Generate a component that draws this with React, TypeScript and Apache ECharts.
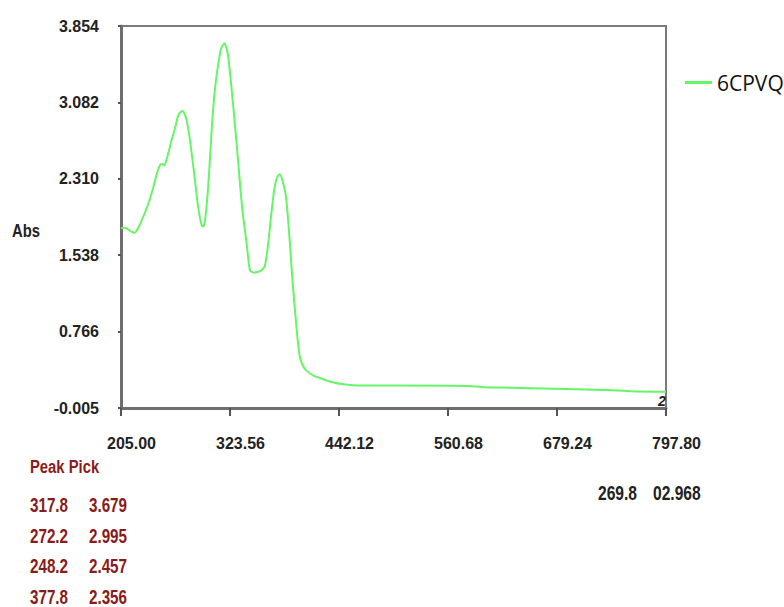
import React, { useEffect, useRef } from "react";
import * as echarts from "echarts";

const seriesName = "6CPVQ";
const wavelengths = [
  205, 209, 213, 216, 219.5, 223, 228, 234.7, 240, 244, 247.4, 250, 252, 255, 260, 264, 267.3, 270, 272.2, 274,
  276.4, 280, 285.5, 289, 292.8, 294.5, 296.4, 300, 303.6, 307, 310.9, 314, 317.8, 320, 321.7, 325, 329, 332.6,
  337, 341.7, 345.3, 349, 354.3, 358, 361.6, 365, 368.9, 372, 375, 377.8, 381, 384.5, 388.8, 391, 394.3, 397,
  399.7, 403, 407, 415, 425, 435, 447, 465, 508, 584, 600, 628, 700, 735, 760, 797.8,
];
const absorbance = [
  1.811, 1.815, 1.798, 1.78, 1.764, 1.8, 1.9, 2.058, 2.22, 2.36, 2.45, 2.46, 2.446, 2.52, 2.699, 2.83, 2.953, 2.985,
  2.995, 2.97, 2.902, 2.7, 2.294, 2.02, 1.838, 1.83, 1.889, 2.25, 2.801, 3.2, 3.476, 3.63, 3.679, 3.62, 3.543, 3.25,
  2.85, 2.463, 2.0, 1.653, 1.385, 1.365, 1.372, 1.39, 1.433, 1.65, 1.99, 2.22, 2.33, 2.356, 2.28, 2.125, 1.653, 1.35,
  0.977, 0.7, 0.504, 0.42, 0.37, 0.32, 0.286, 0.255, 0.235, 0.222, 0.222, 0.218, 0.205, 0.2, 0.185, 0.178, 0.165,
  0.16,
];
const xTickLabels = ["205.00", "323.56", "442.12", "560.68", "679.24", "797.80"];
const yTickLabels = ["-0.005", "0.766", "1.538", "2.310", "3.082", "3.854"];
const xMin = 205;
const xMax = 797.8;
const yMin = -0.005;
const yMax = 3.854;
const yAxisTitle = "Abs";
const endMarker = "2";
const peakPickTitle = "Peak Pick";
const peakWavelengths = ["317.8", "272.2", "248.2", "377.8"];
const peakValues = ["3.679", "2.995", "2.457", "2.356"];
const cursorReadout = ["269.8", "02.968"];

const FONT = '"Liberation Sans", Arial, sans-serif';
const DARK_RED = "#8b1a1a";
const INK = "#222";

function narrowText(text: string, x: number, y: number, fill: string, size = 20) {
  return {
    type: "text",
    x,
    y,
    scaleX: 0.78,
    style: {
      text,
      fill,
      font: `bold ${size}px ${FONT}`,
      verticalAlign: "middle",
      lineHeight: 14,
    },
  };
}

export default function App() {
  const ref = useRef<HTMLDivElement>(null);
  useEffect(() => {
    if (!ref.current) return;
    const chart = echarts.init(ref.current, undefined, { renderer: "svg" });
    const xSpan = xMax - xMin;
    const ySpan = yMax - yMin;
    const data = wavelengths.map((w, i) => [w - xMin, absorbance[i] - yMin]);
    const peakTexts: any[] = [];
    peakWavelengths.forEach((w, i) => {
      peakTexts.push(narrowText(w, 30, 505.5 + i * 30.5, DARK_RED, 19.5));
      peakTexts.push(narrowText(peakValues[i], 89, 505.5 + i * 30.5, DARK_RED, 19.5));
    });
    chart.setOption({
      animation: false,
      grid: {
        left: 121,
        top: 26,
        right: 118,
        bottom: 199,
        show: true,
        borderColor: "#7a7a7a",
        borderWidth: 2,
        outerBoundsMode: "none",
        containLabel: false,
      },
      legend: {
        left: 685,
        top: 72,
        padding: 0,
        icon: "rect",
        itemWidth: 27,
        itemHeight: 3,
        itemGap: 4,
        textStyle: { fontFamily: '"Open Sans", sans-serif', fontSize: 21, color: "#111" },
        data: [seriesName],
      },
      xAxis: {
        type: "value",
        min: 0,
        max: xSpan,
        interval: xSpan / 5,
        axisLine: { show: true, lineStyle: { color: "#6e6e6e", width: 3 } },
        axisTick: { show: true, length: 8, lineStyle: { color: "#555", width: 2 } },
        splitLine: { show: false },
        axisLabel: {
          margin: 27,
          padding: [0, 0, 0, 21],
          color: INK,
          fontFamily: FONT,
          fontWeight: "bold",
          fontSize: 16,
          showMaxLabel: true,
          showMinLabel: true,
          formatter: (v: number) => xTickLabels[Math.round(v / (xSpan / 5))] ?? "",
        },
      },
      yAxis: {
        type: "value",
        min: 0,
        max: ySpan,
        interval: ySpan / 5,
        axisLine: { show: true, lineStyle: { color: "#6e6e6e", width: 3 } },
        axisTick: { show: true, length: 3, lineStyle: { color: "#555", width: 2 } },
        splitLine: { show: false },
        axisLabel: {
          margin: 22,
          color: INK,
          fontFamily: FONT,
          fontWeight: "bold",
          fontSize: 16,
          showMaxLabel: true,
          showMinLabel: true,
          formatter: (v: number) => yTickLabels[Math.round(v / (ySpan / 5))] ?? "",
        },
      },
      series: [
        {
          name: seriesName,
          type: "line",
          data,
          smooth: 0.25,
          symbol: "none",
          lineStyle: { color: "#66f566", width: 2 },
          itemStyle: { color: "#66f566" },
        },
      ],
      graphic: [
        narrowText(yAxisTitle, 12, 231, INK, 19),
        {
          type: "text",
          x: 658,
          y: 401,
          style: { text: endMarker, fill: INK, font: `bold italic 14px ${FONT}`, verticalAlign: "middle" },
        },
        narrowText(peakPickTitle, 30, 467, DARK_RED, 19),
        ...peakTexts,
        narrowText(cursorReadout[0], 598, 493, INK),
        narrowText(cursorReadout[1], 653, 493, INK),
      ],
    });
    return () => chart.dispose();
  }, []);
  return (
    <div
      ref={ref}
      style={{ position: "fixed", left: 0, top: 0, width: 784, height: 607, background: "#fff" }}
    />
  );
}
